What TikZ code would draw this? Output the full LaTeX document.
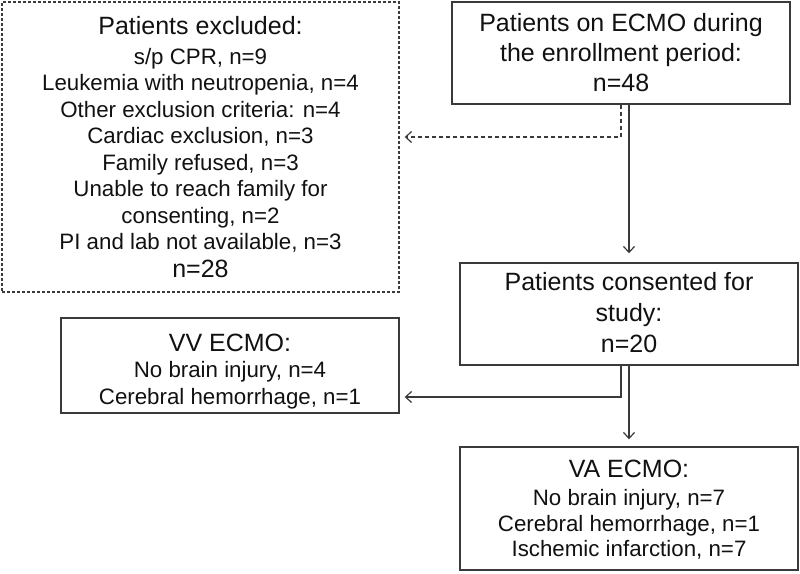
\documentclass[tikz,border=0pt]{standalone}
\usepackage{fontspec}
\setmainfont{Liberation Sans}
\usetikzlibrary{arrows.meta,calc}
\definecolor{linegray}{HTML}{3A3A3A}
\definecolor{txt}{HTML}{111111}
\newcommand\bigttl{\fontsize{25}{30}\selectfont}
\begin{document}
\begin{tikzpicture}[x=1pt,y=-1pt,
  box/.style={draw=linegray,line width=1.4pt,inner sep=0pt,align=center,text=txt,
    font=\fontsize{22.3}{26.5}\selectfont},
  conn/.style={draw=linegray,line width=1.2pt,-{Straight Barb[length=6pt,width=11pt]}},
  dashbox/.style={dash pattern=on 3pt off 2pt},
  dashconn/.style={dash pattern=on 4pt off 3pt}]
\useasboundingbox (0,0) rectangle (800,573);

\node[box,dashbox,minimum width=397pt,minimum height=290pt] (excl) at (200.5,147)
 {{\bigttl Patients excluded:}\\[3.5pt]
  s/p CPR, n=9\\
  Leukemia with neutropenia, n=4\\
  Other exclusion criteria: n=4\\
  Cardiac exclusion, n=3\\
  Family refused, n=3\\
  Unable to reach family for\\
  consenting, n=2\\
  PI and lab not available, n=3\\[1.5pt]
  {\bigttl n=28}};

\node[box,minimum width=338pt,minimum height=102pt,font=\bigttl] (ecmo) at (621,53)
 {Patients on ECMO during\\the enrollment period:\\n=48};

\node[box,minimum width=338pt,minimum height=102pt,font=\fontsize{25}{31}\selectfont] (cons) at (629,314)
 {Patients consented for\\study:\\n=20\rule[-3pt]{0pt}{1pt}};

\node[box,minimum width=338pt,minimum height=95pt,font=\fontsize{22.3}{27}\selectfont] (vv) at (230,365.5)
 {{\bigttl\rule{0pt}{30pt}VV ECMO:}\\[-1pt]
  No brain injury, n=4\\
  Cerebral hemorrhage, n=1};

\node[box,minimum width=338pt,minimum height=123pt,font=\fontsize{22.3}{25.5}\selectfont] (va) at (629,508.5)
 {{\bigttl\rule{0pt}{20pt}VA ECMO:}\\[3pt]
  No brain injury, n=7\\
  Cerebral hemorrhage, n=1\\
  Ischemic infarction, n=7};

\coordinate (dbend) at (621,137);
\coordinate (vbend) at (621,397);

\draw[conn] ([xshift=8pt]ecmo.south) -- (cons.north) [shorten >=9pt];
\draw[conn,dashconn,shorten >=5pt] (ecmo.south) -- (dbend) -- (dbend -| excl.east);
\draw[conn,shorten >=5pt] ([xshift=-8pt]cons.south) -- (vbend) -- (vbend -| vv.east);
\draw[conn,shorten >=7pt] (cons.south) -- (va.north);
\end{tikzpicture}
\end{document}
